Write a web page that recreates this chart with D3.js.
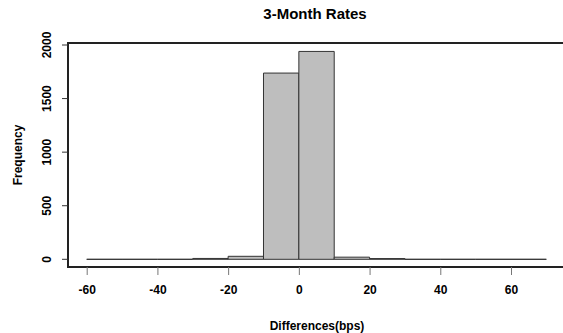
<!DOCTYPE html>
<html>
<head>
<meta charset="utf-8">
<script src="https://cdn.jsdelivr.net/npm/d3@7"></script>
<style>
  body { margin: 0; background: #fff; }
  text { font-family: "Liberation Sans", Arial, sans-serif; font-weight: bold; fill: #000; }
</style>
</head>
<body>
<svg id="chart" width="563" height="333"></svg>
<script>
// bin edges (bps) and counts per bin
const binStarts = [-60, -50, -40, -30, -20, -10, 0, 10, 20, 30, 40, 50, 60];
const binWidth = 10;
const counts = [0, 0, 0, 8, 28, 1738, 1940, 20, 7, 0, 0, 0, 0];
const xTicks = [-60, -40, -20, 0, 20, 40, 60];
const yTicks = [0, 500, 1000, 1500, 2000];

const svg = d3.select("#chart");
const boxL = 68, boxR = 563, boxT = 43, boxB = 267;

// x: -60 -> 86.7, 60 -> 511
const x = d3.scaleLinear().domain([-60, 60]).range([86.7, 511]);
const y = d3.scaleLinear().domain([0, 2000]).range([259.3, 45]);

// bars as closed paths so empty bins still show as a flat line
svg.selectAll("path.bar")
  .data(binStarts.map((s, i) => ({ s, c: counts[i] })))
  .enter()
  .append("path")
  .attr("class", "bar")
  .attr("d", d => {
    const x0 = x(d.s), x1 = x(d.s + binWidth), y0 = y(0), y1 = y(d.c);
    return `M${x0},${y0}L${x0},${y1}L${x1},${y1}L${x1},${y0}Z`;
  })
  .attr("fill", "#bebebe")
  .attr("stroke", "#333")
  .attr("stroke-width", 1);

// plot box
svg.append("rect")
  .attr("x", boxL).attr("y", boxT)
  .attr("width", boxR + 5 - boxL).attr("height", boxB - boxT)
  .attr("fill", "none")
  .attr("stroke", "#222")
  .attr("stroke-width", 2);

// x axis
const xAxis = svg.append("g")
  .attr("transform", `translate(0,${boxB})`)
  .call(d3.axisBottom(x).tickValues(xTicks).tickSize(8).tickPadding(10).tickFormat(d => String(d)));
xAxis.select(".domain").remove();
xAxis.selectAll("line").attr("stroke", "#777");
xAxis.selectAll("text").attr("font-size", 12).style("font-family", "Liberation Sans, Arial, sans-serif").style("font-weight", "bold");

// y axis
const yAxis = svg.append("g")
  .attr("transform", `translate(${boxL},0)`)
  .call(d3.axisLeft(y).tickValues(yTicks).tickSize(6).tickFormat(d => String(d)));
yAxis.select(".domain").remove();
yAxis.selectAll("line").attr("stroke", "#333");
yAxis.selectAll(".tick").attr("transform", null);
yAxis.selectAll(".tick line").attr("y1", d => y(d)).attr("y2", d => y(d));
yAxis.selectAll("text")
  .attr("font-size", 12)
  .style("font-family", "Liberation Sans, Arial, sans-serif").style("font-weight", "bold")
  .attr("text-anchor", "middle")
  .attr("x", 0).attr("y", 0).attr("dy", 0)
  .attr("transform", d => `translate(-17,${y(d)}) rotate(-90)`);

// titles
svg.append("text")
  .attr("x", 315).attr("y", 19)
  .attr("text-anchor", "middle")
  .attr("font-size", 15)
  .text("3-Month Rates");

svg.append("text")
  .attr("x", 317).attr("y", 330)
  .attr("text-anchor", "middle")
  .attr("font-size", 12)
  .text("Differences(bps)");

svg.append("text")
  .attr("transform", "translate(22,155) rotate(-90)")
  .attr("text-anchor", "middle")
  .attr("font-size", 12)
  .text("Frequency");
</script>
</body>
</html>
